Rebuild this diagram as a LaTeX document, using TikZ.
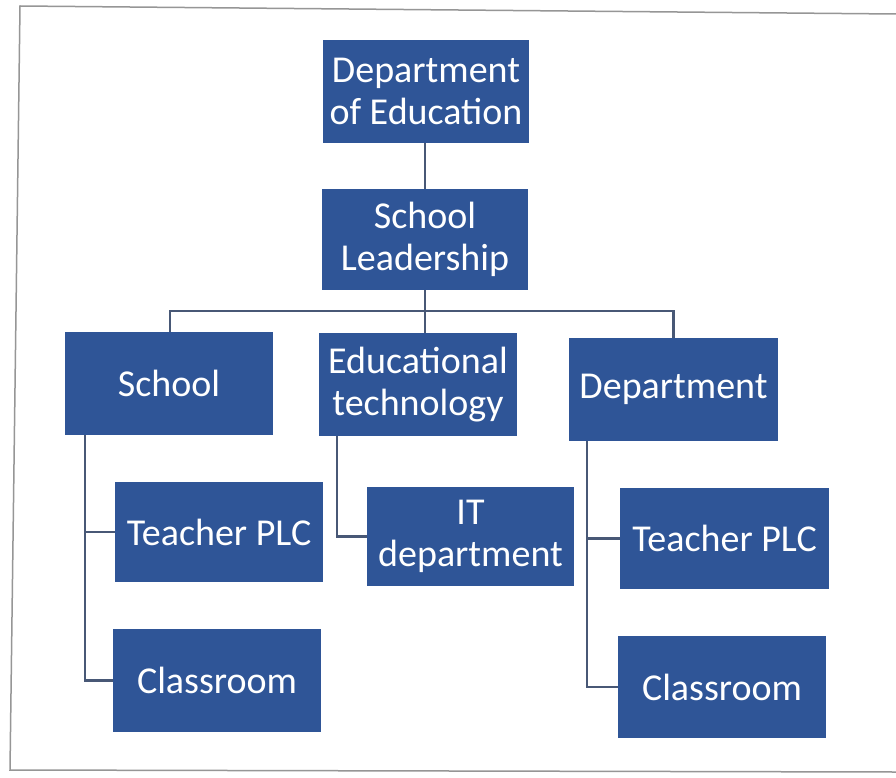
\documentclass[tikz,border=0pt]{standalone}
\usepackage{fontspec}
\setmainfont{Carlito}
\definecolor{boxblue}{RGB}{47,85,151}
\definecolor{linecol}{RGB}{72,88,118}
\definecolor{framecol}{RGB}{150,150,150}
\begin{document}
\begin{tikzpicture}[x=1pt,y=-1pt,
  orgbox/.style={rectangle,fill=boxblue,text=white,inner sep=0pt,align=center,
    font=\fontsize{38}{42}\selectfont},
  conn/.style={draw=linecol,line width=2.2pt}]
\useasboundingbox (0,0) rectangle (896,778);
\fill[white] (0,0) rectangle (896,778);
\draw[framecol,line width=1.5pt] (896,14) -- (20,6) -- (10,770) -- (896,772);
\node[orgbox,minimum width=206,minimum height=103] (doe) at (426,91.5) {Department\\of Education};
\node[orgbox,minimum width=206,minimum height=101] (sl) at (425,239.5) {School\\Leadership};
\node[orgbox,minimum width=208,minimum height=103] (school) at (169,383.5) {School};
\node[orgbox,minimum width=198,minimum height=103] (edtech) at (418,384.5) {Educational\\technology};
\node[orgbox,minimum width=209,minimum height=103] (dept) at (673.5,389.5) {Department};
\node[orgbox,minimum width=208,minimum height=100] (tplca) at (219,532) {Teacher PLC};
\node[orgbox,minimum width=208,minimum height=103] (clsa) at (217,680.5) {Classroom};
\node[orgbox,minimum width=207,minimum height=99] (it) at (470.5,536.5) {IT\\department};
\node[orgbox,minimum width=209,minimum height=101] (tplcb) at (724.5,538.5) {Teacher PLC};
\node[orgbox,minimum width=208,minimum height=102] (clsb) at (722,687) {Classroom};
\coordinate (bar) at (425,311);
\draw[conn] (sl.north) -- (sl.north |- doe.south);
\draw[conn] (sl.south) -- (bar);
\draw[conn] (school.north) ++(1,0) |- (bar) -| (dept.north);
\draw[conn] (bar) -- (bar |- edtech.north);
\draw[conn] (school.south west) ++(20,0) coordinate (sa) |- (clsa.west);
\draw[conn] (sa) |- (tplca.west);
\draw[conn] (edtech.south west) ++(18,0) |- (it.west);
\draw[conn] (dept.south west) ++(18,0) coordinate (db) |- (clsb.west);
\draw[conn] (db) |- (tplcb.west);
\end{tikzpicture}
\end{document}
